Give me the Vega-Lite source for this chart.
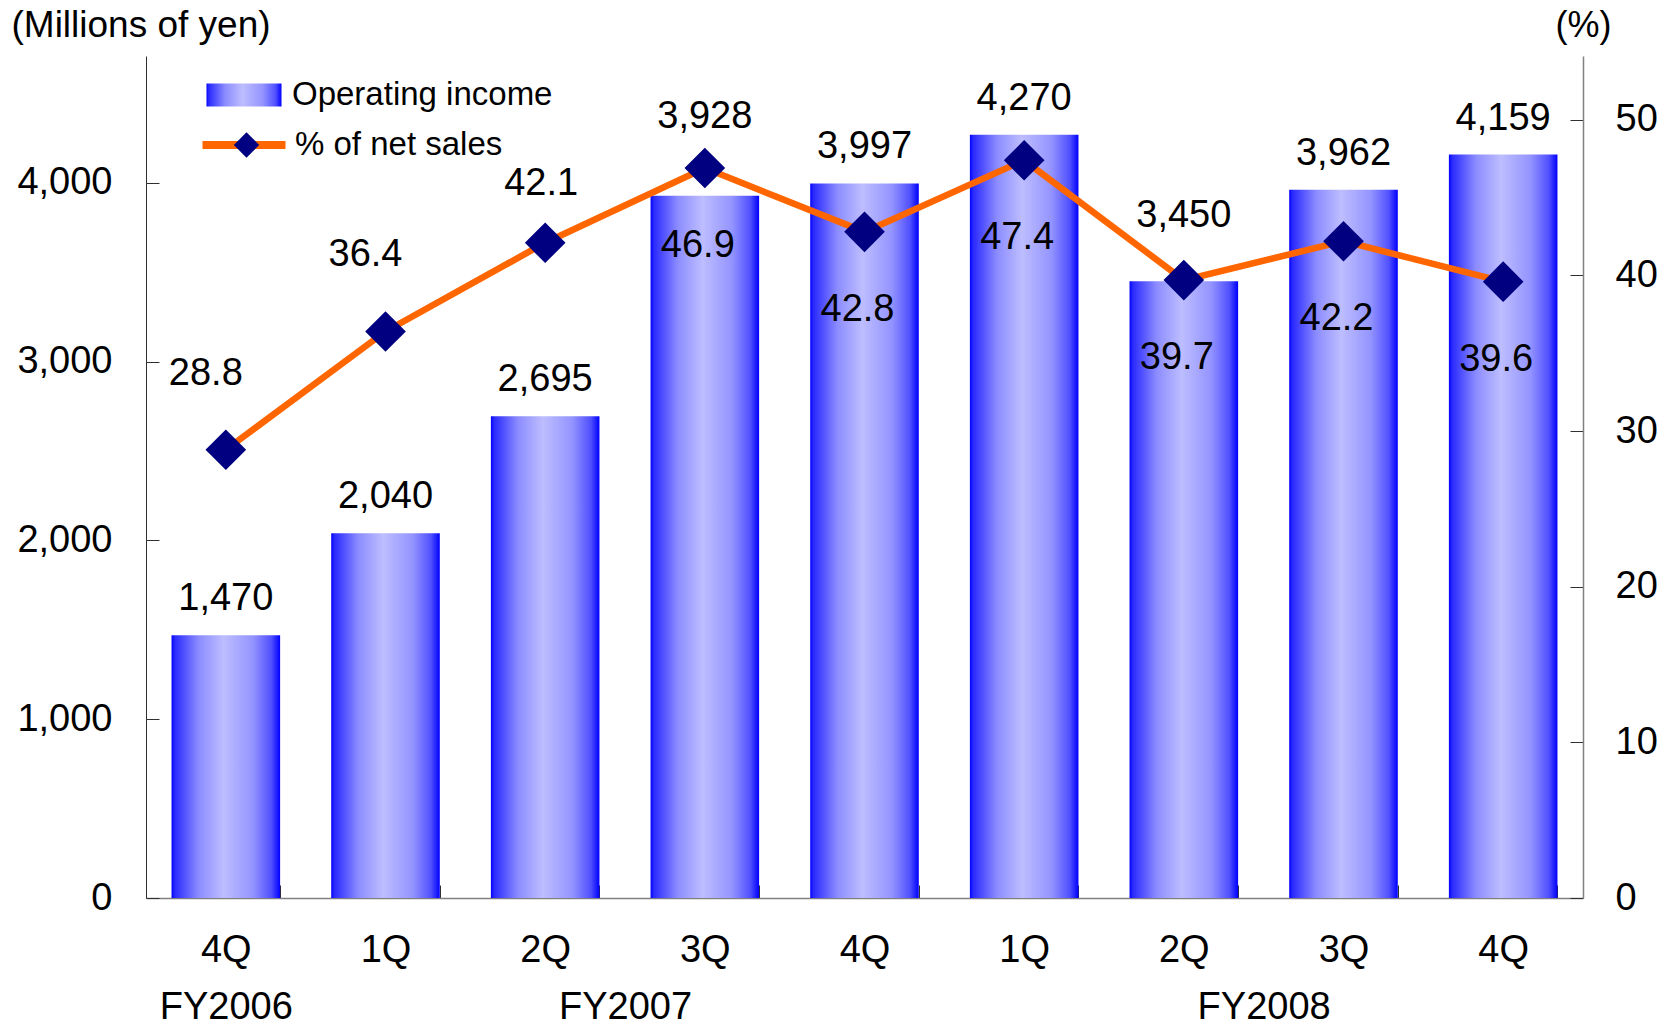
{
  "$schema": "https://vega.github.io/schema/vega-lite/v6.json",
  "width": 1437,
  "height": 842,
  "autosize": {"type": "none"},
  "padding": {"left": 146, "top": 56, "right": 94, "bottom": 127},
  "background": "white",
  "datasets": {
    "q": [
      {"cat": "4Q FY2006", "income": 1470, "pct": 28.8},
      {"cat": "1Q FY2007", "income": 2040, "pct": 36.4},
      {"cat": "2Q FY2007", "income": 2695, "pct": 42.1},
      {"cat": "3Q FY2007", "income": 3928, "pct": 46.9},
      {"cat": "4Q FY2007", "income": 3997, "pct": 42.8},
      {"cat": "1Q FY2008", "income": 4270, "pct": 47.4},
      {"cat": "2Q FY2008", "income": 3450, "pct": 39.7},
      {"cat": "3Q FY2008", "income": 3962, "pct": 42.2},
      {"cat": "4Q FY2008", "income": 4159, "pct": 39.6}
    ],
    "fy": [
      {"fy": "FY2006", "mid": 0.5},
      {"fy": "FY2007", "mid": 3},
      {"fy": "FY2008", "mid": 7}
    ]
  },
  "config": {
    "view": {"stroke": null},
    "font": "Liberation Sans",
    "axis": {
      "labelFont": "Liberation Sans",
      "labelFontSize": 38,
      "labelColor": "#000000",
      "titleFont": "Liberation Sans",
      "titleFontWeight": "normal",
      "titleColor": "#000000",
      "grid": false
    },
    "legend": {
      "labelFont": "Liberation Sans",
      "labelFontSize": 33,
      "labelColor": "#000000",
      "labelLimit": 0
    },
    "text": {"font": "Liberation Sans", "fontSize": 38, "color": "#000000"}
  },
  "layer": [
    {
      "data": {"name": "q"},
      "layer": [
        {
          "layer": [
            {
              "mark": {
                "type": "bar",
                "color": {
                  "gradient": "linear", "x1": 0, "x2": 1, "y1": 0, "y2": 0,
                  "stops": [
                    {"offset": 0, "color": "#0000ff"},
                    {"offset": 0.03, "color": "#2a2aff"},
                    {"offset": 0.25, "color": "#8c8cff"},
                    {"offset": 0.48, "color": "#bdbdff"},
                    {"offset": 0.75, "color": "#9494ff"},
                    {"offset": 0.92, "color": "#5050ff"},
                    {"offset": 1, "color": "#0000ff"}
                  ]
                }
              },
              "encoding": {
                "x": {
                  "field": "cat", "type": "nominal", "sort": null,
                  "scale": {"paddingInner": 0.32, "paddingOuter": 0.16},
                  "axis": {
                    "orient": "bottom",
                    "title": null,
                    "labelExpr": "datum.value ? split(datum.value, ' ')[0] : ''",
                    "labelAngle": 0,
                    "labelBaseline": "middle",
                    "labelPadding": 65,
                    "tickBand": "extent",
                    "tickSize": -13,
                    "tickColor": "#303030",
                    "domainColor": "#808080",
                    "domainWidth": 1.5
                  }
                },
                "y": {
                  "field": "income", "type": "quantitative",
                  "scale": {"domain": [0, 4710], "nice": false},
                  "axis": {
                    "values": [0, 1000, 2000, 3000, 4000],
                    "labelExpr": "format(datum.value, ',')",
                    "tickSize": -13,
                    "labelPadding": 47,
                    "labelBaseline": "middle",
                    "tickColor": "#303030",
                    "domainColor": "#303030",
                    "title": "(Millions of yen)",
                    "titleAngle": 0,
                    "titleX": -135,
                    "titleY": -30.5,
                    "titleAlign": "left",
                    "titleBaseline": "middle",
                    "titleFontSize": 37
                  }
                },
                "stroke": {
                  "datum": "Operating income",
                  "type": "nominal",
                  "scale": {"range": ["transparent"]},
                  "legend": {
                    "orient": "none",
                    "legendX": 78,
                    "legendY": 19,
                    "title": null,
                    "symbolType": "M-1.875,-0.575H1.875V0.575H-1.875Z",
                    "symbolSize": 1600,
                    "symbolStrokeWidth": 0,
                    "symbolOpacity": 1,
                    "labelOffset": 28
                  }
                }
              }
            },
            {
              "transform": [{"filter": "datum.cat !== '3Q FY2007' && datum.cat !== '2Q FY2008'"}],
              "mark": {"type": "text", "baseline": "middle", "dy": -36},
              "encoding": {
                "x": {"field": "cat", "type": "nominal", "sort": null},
                "y": {"field": "income", "type": "quantitative"},
                "text": {"field": "income", "type": "quantitative", "format": ","}
              }
            },
            {
              "transform": [{"filter": "datum.cat === '3Q FY2007'"}],
              "mark": {"type": "text", "baseline": "middle", "dy": -79},
              "encoding": {
                "x": {"field": "cat", "type": "nominal", "sort": null},
                "y": {"field": "income", "type": "quantitative"},
                "text": {"field": "income", "type": "quantitative", "format": ","}
              }
            },
            {
              "transform": [{"filter": "datum.cat === '2Q FY2008'"}],
              "mark": {"type": "text", "baseline": "middle", "dy": -65},
              "encoding": {
                "x": {"field": "cat", "type": "nominal", "sort": null},
                "y": {"field": "income", "type": "quantitative"},
                "text": {"field": "income", "type": "quantitative", "format": ","}
              }
            }
          ]
        },
        {
          "layer": [
            {
              "mark": {"type": "line", "strokeWidth": 6.5},
              "encoding": {
                "x": {"field": "cat", "type": "nominal", "sort": null},
                "y": {
                  "field": "pct", "type": "quantitative",
                  "scale": {"domain": [0, 54.1], "nice": false},
                  "axis": {
                    "orient": "right",
                    "values": [0, 10, 20, 30, 40, 50],
                    "tickSize": -13,
                    "labelPadding": 45,
                    "labelBaseline": "middle",
                    "tickColor": "#303030",
                    "domainColor": "#808080",
                    "domainWidth": 1.5,
                    "title": "(%)",
                    "titleAngle": 0,
                    "titleX": 0,
                    "titleY": -30.5,
                    "titleAlign": "center",
                    "titleBaseline": "middle",
                    "titleFontSize": 36
                  }
                },
                "color": {
                  "datum": "% of net sales",
                  "type": "nominal",
                  "scale": {"range": ["#ff6600"]},
                  "legend": {
                    "orient": "none",
                    "legendX": 74,
                    "legendY": 65,
                    "title": null,
                    "symbolType": "M-2.075,0H2.075",
                    "symbolSize": 1600,
                    "symbolStrokeWidth": 8,
                    "symbolOpacity": 1,
                    "labelOffset": 27
                  }
                }
              }
            },
            {
              "mark": {"type": "point", "shape": "diamond", "filled": true, "size": 1650, "color": "#000080", "opacity": 1, "strokeWidth": 0},
              "encoding": {
                "x": {"field": "cat", "type": "nominal", "sort": null},
                "y": {"field": "pct", "type": "quantitative"},
                "shape": {
                  "datum": "marker",
                  "type": "nominal",
                  "scale": {"range": ["diamond"]},
                  "legend": {
                    "orient": "none",
                    "legendX": 84,
                    "legendY": 72.5,
                    "title": null,
                    "symbolSize": 640,
                    "symbolStrokeWidth": 0,
                    "symbolFillColor": "#000080",
                    "symbolOpacity": 1,
                    "labelExpr": "''"
                  }
                }
              }
            },
            {
              "transform": [{"filter": "datum.cat === '4Q FY2006' || datum.cat === '1Q FY2007'"}],
              "mark": {"type": "text", "baseline": "middle", "dy": -76, "dx": -20},
              "encoding": {
                "x": {"field": "cat", "type": "nominal", "sort": null},
                "y": {"field": "pct", "type": "quantitative"},
                "text": {"field": "pct", "type": "quantitative", "format": ".1f"}
              }
            },
            {
              "transform": [{"filter": "datum.cat === '2Q FY2007'"}],
              "mark": {"type": "text", "baseline": "middle", "dy": -59, "dx": -4},
              "encoding": {
                "x": {"field": "cat", "type": "nominal", "sort": null},
                "y": {"field": "pct", "type": "quantitative"},
                "text": {"field": "pct", "type": "quantitative", "format": ".1f"}
              }
            },
            {
              "transform": [{"filter": "datum.cat !== '4Q FY2006' && datum.cat !== '1Q FY2007' && datum.cat !== '2Q FY2007'"}],
              "mark": {"type": "text", "baseline": "middle", "dy": 78, "dx": -7},
              "encoding": {
                "x": {"field": "cat", "type": "nominal", "sort": null},
                "y": {"field": "pct", "type": "quantitative"},
                "text": {"field": "pct", "type": "quantitative", "format": ".1f"}
              }
            }
          ]
        }
      ],
      "resolve": {"scale": {"y": "independent"}}
    },
    {
      "data": {"name": "fy"},
      "mark": {"type": "text", "opacity": 0},
      "encoding": {
        "x": {
          "field": "mid", "type": "quantitative",
          "scale": {"domain": [0, 9], "nice": false, "zero": false},
          "axis": {
            "orient": "bottom",
            "values": [0.5, 3, 7],
            "labelExpr": "datum.value == 0.5 ? 'FY2006' : (datum.value == 3 ? 'FY2007' : 'FY2008')",
            "ticks": false,
            "domain": false,
            "grid": false,
            "labelBaseline": "middle",
            "labelPadding": 109,
            "labelFlush": false,
            "labelOverlap": false,
            "title": null
          }
        },
        "text": {"field": "fy"}
      }
    }
  ],
  "resolve": {"scale": {"x": "independent"}}
}
